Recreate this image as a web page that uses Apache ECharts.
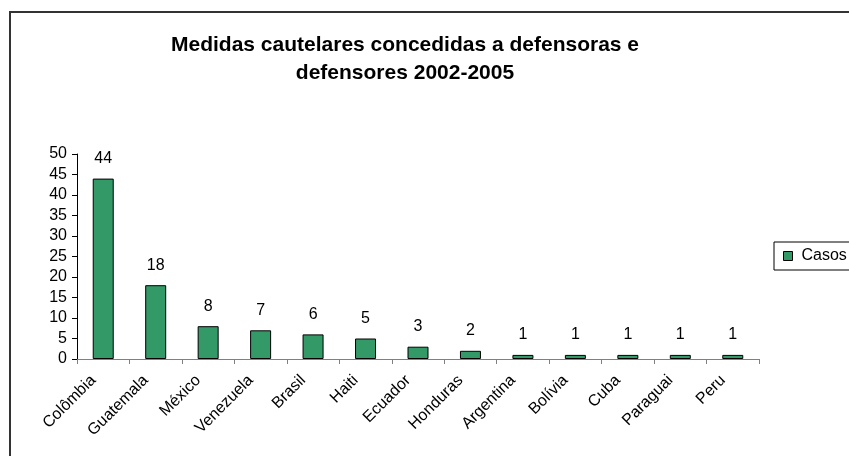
<!DOCTYPE html>
<html><head><meta charset="utf-8">
<script src="https://cdn.jsdelivr.net/npm/echarts@6/dist/echarts.min.js"></script>
<style>html,body{margin:0;padding:0;background:#fff}#c{width:849px;height:456px}</style>
</head><body><div id="c"></div>
<script>
const categories = ['Colômbia','Guatemala','México','Venezuela','Brasil','Haiti','Ecuador','Honduras','Argentina','Bolívia','Cuba','Paraguai','Peru'];
const casos = [44,18,8,7,6,5,3,2,1,1,1,1,1];
const seriesName = 'Casos';
const titleText = 'Medidas cautelares concedidas a defensoras e\ndefensores 2002-2005';
const yTicks = {min:0, max:50, interval:5};

const chart = echarts.init(document.getElementById('c'), null, {renderer:'canvas'});
const F = 'Arial, "Liberation Sans", sans-serif';
chart.setOption({
  animation:false,
  backgroundColor:'#fff',
  title:{text:titleText, left:400, top:26, textAlign:'center',
    textStyle:{fontFamily:F, fontSize:21, fontWeight:'bold', color:'#000', lineHeight:28}},
  legend:{data:[seriesName], left:774, top:242, orient:'vertical',
    padding:[6,20,6,9], itemGap:0, itemWidth:9, itemHeight:9, icon:'rect',
    borderColor:'#000', borderWidth:1, backgroundColor:'#fff',
    itemStyle:{borderColor:'#000', borderWidth:1},
    textStyle:{fontFamily:F, fontSize:16, color:'#000', padding:[0,0,0,4]}},
  grid:{left:77, right:90, top:154, bottom:97, containLabel:false},
  xAxis:{type:'category', data:categories,
    axisLine:{lineStyle:{color:'#808080', width:1}},
    axisTick:{show:true, length:5, inside:false, lineStyle:{color:'#808080'}},
    axisLabel:{rotate:45, margin:9, padding:[0,14,0,0], fontFamily:F, fontSize:16, color:'#000', interval:0}},
  yAxis:{type:'value', min:yTicks.min, max:yTicks.max, interval:yTicks.interval,
    splitLine:{show:false},
    axisLine:{show:true, lineStyle:{color:'#000', width:1}},
    axisTick:{show:true, length:5, lineStyle:{color:'#000'}},
    axisLabel:{fontFamily:F, fontSize:16, color:'#000', margin:10}},
  series:[{name:seriesName, type:'bar', data:casos, barWidth:21,
    itemStyle:{color:'#339966', borderColor:'#000', borderWidth:1},
    label:{show:true, position:'top', distance:12, fontFamily:F, fontSize:16, color:'#000'}}],
  graphic:[{type:'rect', shape:{x:10, y:12, width:900, height:500},
    style:{fill:'none', stroke:'#333', lineWidth:2}, z:-1, silent:true}]
});
</script></body></html>
